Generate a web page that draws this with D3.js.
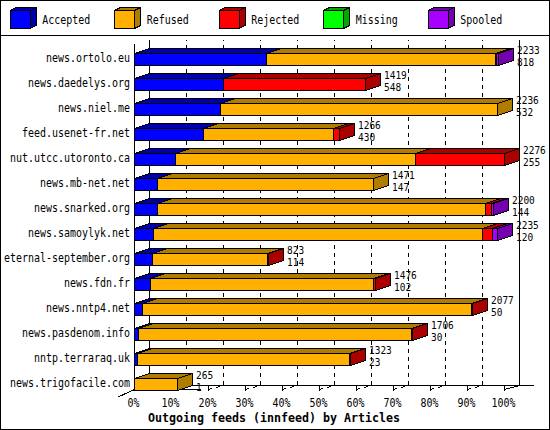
<!DOCTYPE html>
<html><head><meta charset="utf-8">
<script src="https://cdn.jsdelivr.net/npm/d3@7"></script>
<style>html,body{margin:0;padding:0;background:#fff}svg{display:block}</style>
</head><body>
<script>
// ---- data (percent of bar length) ----
const categories = ["news.ortolo.eu","news.daedelys.org","news.niel.me","feed.usenet-fr.net","nut.utcc.utoronto.ca","news.mb-net.net","news.snarked.org","news.samoylyk.net","eternal-september.org","news.fdn.fr","news.nntp4.net","news.pasdenom.info","nntp.terraraq.uk","news.trigofacile.com"];
const seriesNames = ["Accepted","Refused","Rejected","Missing","Spooled"];
const accepted = [35.6, 24.0, 23.2, 18.7, 11.1, 6.2, 6.2, 5.2, 4.8, 4.4, 2.2, 1.1, 0.9, 0];
const refused  = [62.1, 0, 75.0, 35.0, 64.8, 58.5, 88.7, 88.8, 31.2, 60.3, 88.9, 73.8, 57.1, 11.6];
const rejected = [0.2, 38.3, 0, 1.7, 24.1, 0, 1.5, 2.8, 0.3, 0.3, 0.3, 0.3, 0.3, 0];
const missing  = [0, 0, 0, 0, 0, 0, 0, 0, 0, 0, 0, 0, 0, 0];
const spooled  = [0.5, 0, 0, 0, 0, 0, 0.5, 1.4, 0, 0, 0, 0, 0, 0];
const totalLabels  = [2233, 1419, 2236, 1266, 2276, 1471, 2200, 2235, 823, 1476, 2077, 1706, 1323, 265];
const secondLabels = [818, 548, 532, 430, 255, 147, 144, 120, 114, 102, 50, 30, 23, 1];
const tickValues = [0,10,20,30,40,50,60,70,80,90,100];
const tickLabels = ["0%","10%","20%","30%","40%","50%","60%","70%","80%","90%","100%"];
const axisTitle = "Outgoing feeds (innfeed) by Articles";

// ---- styling ----
const front = ["#0000ff","#ffb000","#ff0000","#00ff00","#a800ff"];
const dark  = ["#0000aa","#b07c00","#aa0000","#00a800","#7400b0"];
const FONT = "'DejaVu Sans Mono','Liberation Mono',monospace";
const DX = 15, DY = 5;

const svg = d3.select("body").append("svg").attr("width",550).attr("height",430)
  .attr("shape-rendering","crispEdges");
svg.append("rect").attr("x",0.5).attr("y",0.5).attr("width",549).attr("height",429)
  .attr("fill","#fff").attr("stroke","#000");
svg.append("line").attr("x1",0).attr("x2",550).attr("y1",35.5).attr("y2",35.5).attr("stroke","#000");

function txt(g, s, x, y, opts={}) {
  const cw = opts.cw || 6;
  const n = String(s).length;
  let sx = x;
  if (opts.anchor === "end") sx = x - n*cw;
  else if (opts.anchor === "middle") sx = x - n*cw/2;
  return g.append("text").attr("x",sx).attr("y",y)
    .attr("font-family",FONT).attr("font-size",opts.size||12)
    .attr("font-weight",opts.bold?"bold":"normal")
    .attr("textLength",n*cw).attr("lengthAdjust","spacingAndGlyphs")
    .attr("fill","#000").text(s);
}

// ---- legend ----
const lg = svg.append("g");
seriesNames.forEach((name,i)=>{
  const x = 10 + i*104.5, y0 = 10.5, w = 20, h = 18, dx = 6, dy = 3;
  lg.append("polygon").attr("points",[[x,y0],[x+dx,y0-dy],[x+w+dx,y0-dy],[x+w,y0]].join(" "))
    .attr("fill",dark[i]).attr("stroke","#000");
  lg.append("polygon").attr("points",[[x+w,y0],[x+w+dx,y0-dy],[x+w+dx,y0+h-dy],[x+w,y0+h]].join(" "))
    .attr("fill",dark[i]).attr("stroke","#000");
  lg.append("rect").attr("x",x).attr("y",y0).attr("width",w).attr("height",h)
    .attr("fill",front[i]).attr("stroke","#000");
  txt(lg, name, x+32.3, 24);
});

// ---- scales ----
const x = d3.scaleLinear().domain([0,100]).range([134.5,504.5]);
const y = d3.scaleBand().domain(categories).range([40,390]);
const px = v => Math.round(x(v)-0.5)+0.5;

// ---- grid ----
const grid = svg.append("g");
const yTop = 40, yFloorBack = 385.5, yFloorFront = 389.5;
tickValues.forEach(v=>{
  const xf = px(v), xb = xf + DX;
  const solid = (v===0 || v===100);
  if (solid) {
    grid.append("line").attr("x1",xb).attr("x2",xb).attr("y1",yTop).attr("y2",yFloorBack).attr("stroke","#000");
  } else {
    grid.append("polyline").attr("points",[[xf,yFloorFront],[xb,yFloorBack],[xb,yTop]].join(" "))
      .attr("fill","none").attr("stroke","#000").attr("stroke-dasharray","4,4");
  }
  grid.append("line").attr("x1",xf).attr("x2",xf).attr("y1",yFloorBack).attr("y2",yFloorFront+1).attr("stroke","#000");
});
// axes
grid.append("line").attr("x1",x(0)).attr("x2",x(0)).attr("y1",44).attr("y2",yFloorFront).attr("stroke","#000");
grid.append("line").attr("x1",x(0)).attr("x2",534).attr("y1",yFloorBack).attr("y2",yFloorBack).attr("stroke","#000");
grid.append("line").attr("x1",x(0)).attr("x2",x(0)+66).attr("y1",yFloorFront).attr("y2",yFloorFront).attr("stroke","#000");
grid.append("line").attr("x1",118).attr("x2",x(0)).attr("y1",397).attr("y2",yFloorFront).attr("stroke","#000");
grid.append("line").attr("x1",px(100)).attr("x2",px(100)+DX).attr("y1",yFloorFront).attr("y2",yFloorBack).attr("stroke","#000");

// tick labels
tickValues.forEach((v,i)=>{ txt(svg, tickLabels[i], x(v)-1, 406.5, {anchor:"middle"}); });
txt(svg, axisTitle, 274, 421.5, {anchor:"middle", bold:true, cw:7, size:13});

// ---- bars ----
const series = [accepted, refused, rejected, missing, spooled];
const bars = svg.append("g");
categories.forEach((c,ci)=>{
  const yt = y(c)+13.5, yb = yt+12;
  let cum = 0, lastEnd = px(0);
  series.forEach((s,si)=>{
    const v = s[ci];
    if (!(v>0)) return;
    const x0 = px(cum); cum += v; const x1 = Math.max(px(cum), x0+1);
    const g = bars.append("g");
    g.append("polygon").attr("points",[[x0,yt],[x0+DX,yt-DY],[x1+DX,yt-DY],[x1,yt]].join(" "))
      .attr("fill",dark[si]).attr("stroke","#000");
    g.append("polygon").attr("points",[[x1,yt],[x1+DX,yt-DY],[x1+DX,yb-DY],[x1,yb]].join(" "))
      .attr("fill",dark[si]).attr("stroke","#000");
    g.append("rect").attr("x",x0).attr("y",yt).attr("width",x1-x0).attr("height",yb-yt)
      .attr("fill",front[si]).attr("stroke","#000");
    lastEnd = x1;
  });
  const lx = lastEnd + DX + 3.5;
  txt(bars, totalLabels[ci], lx, yt+0.5, {size:10, cw:5.7});
  txt(bars, secondLabels[ci], lx, yt+12.2, {size:10, cw:5.7});
});

// category labels
categories.forEach(c=>{ txt(svg, c, 130, y(c)+22.3, {anchor:"end"}); });
</script>
</body></html>
